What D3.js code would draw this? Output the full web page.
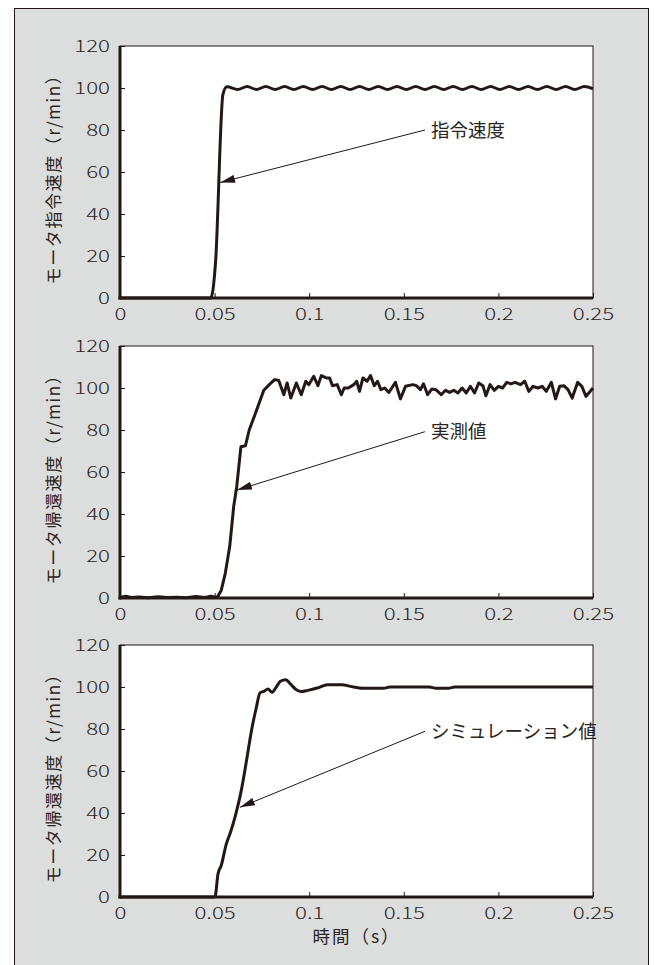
<!DOCTYPE html>
<html>
<head>
<meta charset="utf-8">
<script src="https://cdn.jsdelivr.net/npm/d3@7"></script>
<style>
  body { margin: 0; background: #fff; }
  svg { display: block; }
</style>
</head>
<body>
<svg class="chart"></svg>
<script>
// tick labels
const timeTicks = [0, 0.05, 0.1, 0.15, 0.2, 0.25];
const speedTicks = [0, 20, 40, 60, 80, 100, 120];
const timeTitle = "時間（s）";

// [time (s), speed (r/min)]
const commandSpeed = [
  [0, 0], [0.048, 0], [0.0505, 17], [0.0544, 97], [0.0565, 100.6],
  [0.0622, 99.3], [0.0672, 100.7], [0.0721, 99.3], [0.0771, 100.7], [0.0820, 99.3],
  [0.0870, 100.7], [0.0919, 99.3], [0.0969, 100.7], [0.1018, 99.3], [0.1068, 100.7],
  [0.1117, 99.3], [0.1167, 100.7], [0.1216, 99.3], [0.1266, 100.7], [0.1315, 99.3],
  [0.1365, 100.7], [0.1414, 99.3], [0.1464, 100.7], [0.1513, 99.3], [0.1563, 100.7],
  [0.1612, 99.3], [0.1662, 100.7], [0.1711, 99.3], [0.1761, 100.7], [0.1810, 99.3],
  [0.1860, 100.7], [0.1909, 99.3], [0.1959, 100.7], [0.2008, 99.3], [0.2058, 100.7],
  [0.2107, 99.3], [0.2157, 100.7], [0.2206, 99.3], [0.2256, 100.7], [0.2305, 99.3],
  [0.2355, 100.7], [0.2404, 99.3], [0.2454, 100.7], [0.25, 99.6]
];

const measuredSpeed = [
  [0, 0.3], [0.003, 0.8], [0.006, 0.2], [0.01, 0.5], [0.015, 0.1], [0.02, 0.6],
  [0.025, 0.2], [0.03, 0.4], [0.035, 0.1], [0.04, 0.7], [0.045, 0.3], [0.048, 0.9],
  [0.0513, 0.2], [0.0535, 3.6], [0.0557, 12], [0.058, 24.6], [0.0601, 43.7],
  [0.0617, 53], [0.0639, 72], [0.0663, 72.5], [0.0683, 80], [0.0716, 88],
  [0.076, 98.9], [0.0789, 101.6], [0.0817, 104], [0.0839, 103.6], [0.0866, 96.8],
  [0.0883, 102.4], [0.0903, 95.2], [0.0932, 102.4], [0.0958, 96.8], [0.0982, 103.2],
  [0.0998, 101.6], [0.1024, 105.6], [0.1046, 101.1], [0.1064, 105.9], [0.109, 104.8],
  [0.1108, 104.8], [0.1123, 101.1], [0.1148, 101.6], [0.117, 96.8], [0.1185, 100],
  [0.1207, 100], [0.1236, 101.6], [0.1251, 103.2], [0.1266, 98.4], [0.1284, 104.8],
  [0.1306, 103.2], [0.1324, 105.9], [0.1344, 101.1], [0.1361, 103.2], [0.1379, 99.2],
  [0.1399, 100], [0.1421, 97.9], [0.1456, 102.7], [0.1482, 94.8], [0.1509, 100.8],
  [0.1548, 101.6], [0.1566, 101.1], [0.1588, 99.2], [0.1604, 102], [0.1626, 96.8],
  [0.1648, 99.5], [0.167, 99.2], [0.1698, 96.8], [0.172, 98.9], [0.1742, 97.9],
  [0.1764, 98.9], [0.1786, 97.6], [0.1808, 100], [0.183, 97.6], [0.1852, 100.8],
  [0.1874, 97.6], [0.1896, 102.4], [0.1918, 101.1], [0.1934, 96.3], [0.1956, 101.6],
  [0.1978, 98.9], [0.2, 100.8], [0.2022, 100], [0.2044, 102.7], [0.2066, 102],
  [0.2088, 102.7], [0.2117, 101.6], [0.2139, 103.2], [0.2161, 98.4], [0.2183, 100.8],
  [0.2209, 100], [0.2231, 100.8], [0.2253, 98.4], [0.228, 102.7], [0.2302, 94.8],
  [0.2324, 100.8], [0.2346, 101.1], [0.2368, 99.2], [0.239, 95.2], [0.2419, 102.7],
  [0.2441, 100.8], [0.2463, 96], [0.25, 100]
];

const simulatedSpeed = [
  [0, 0], [0.0502, 0], [0.0518, 11], [0.0535, 15], [0.0562, 25.3], [0.0584, 30.8],
  [0.0612, 39.5], [0.0639, 49.8], [0.0667, 64], [0.0696, 79.8], [0.072, 90],
  [0.074, 97.2], [0.076, 97.9], [0.0782, 99], [0.0804, 97.5], [0.0826, 100],
  [0.0848, 102.7], [0.0877, 103.5], [0.0899, 101.6], [0.0932, 98.7], [0.0958, 97.8],
  [0.0993, 98.4], [0.1042, 99.5], [0.1097, 101.1], [0.1174, 101.1], [0.1218, 100.3],
  [0.1284, 99.4], [0.1394, 99.4], [0.1427, 100], [0.1636, 100], [0.167, 99.4],
  [0.1736, 99.4], [0.1769, 100], [0.25, 100]
];

const panels = [
  { yLabel: "モータ指令速度（r/min）", data: commandSpeed, curve: d3.curveMonotoneX,
    note: "指令速度", noteFrom: [0.1612, 80], noteTo: [0.0529, 55] },
  { yLabel: "モータ帰還速度（r/min）", data: measuredSpeed, curve: d3.curveLinear,
    note: "実測値", noteFrom: [0.1612, 79.2], noteTo: [0.0618, 51.4] },
  { yLabel: "モータ帰還速度（r/min）", data: simulatedSpeed, curve: d3.curveMonotoneX,
    note: "シミュレーション値", noteFrom: [0.1612, 78.9], noteTo: [0.0634, 42.7] }
];

const ink = "#231815";
const textInk = "#2a2422";
const numFont = "'Noto Sans CJK JP', 'Noto Sans', sans-serif";
const jpFont = "'Noto Sans CJK JP', sans-serif";

const W = 654, H = 965;
const left = 120, plotW = 473, plotH = 252;
const tops = [46, 346, 645];
const widen = 1.35;   // the original digits are set in a very wide face

const svg = d3.select(".chart")
    .attr("width", W)
    .attr("height", H);

svg.append("rect")
    .attr("x", 14.5).attr("y", 8.5)
    .attr("width", 634).attr("height", 975)
    .attr("fill", "#dcdddd")
    .attr("stroke", ink)
    .attr("stroke-width", 1);

const defs = svg.append("defs");
defs.append("marker")
    .attr("id", "head")
    .attr("markerUnits", "userSpaceOnUse")
    .attr("viewBox", "0 0 15 8")
    .attr("refX", 15).attr("refY", 4)
    .attr("markerWidth", 15).attr("markerHeight", 8)
    .attr("orient", "auto")
  .append("path")
    .attr("d", "M0,0 L15,4 L0,8 Z")
    .attr("fill", ink);

const x = d3.scaleLinear().domain([0, 0.25]).range([0, plotW]);
const y = d3.scaleLinear().domain([0, 120]).range([plotH, 0]);

panels.forEach((p, i) => {
  const g = svg.append("g").attr("transform", `translate(${left}, ${tops[i]})`);

  g.append("rect")
      .attr("width", plotW).attr("height", plotH)
      .attr("fill", "#fff")
      .attr("stroke", ink)
      .attr("stroke-width", 1);

  const yAxis = g.append("g")
      .call(d3.axisLeft(y).tickValues(speedTicks).tickSize(-5).tickPadding(10));
  const xAxis = g.append("g")
      .attr("transform", `translate(0, ${plotH})`)
      .call(d3.axisBottom(x).tickValues(timeTicks).tickFormat(d3.format("")).tickSize(-5).tickPadding(10));

  [yAxis, xAxis].forEach(a => {
    a.select(".domain").remove();
    a.selectAll("line").attr("stroke", ink);
    a.selectAll("text")
        .attr("fill", textInk)
        .style("font-family", numFont)
        .style("font-size", "16.5px")
        .style("font-weight", 300);
  });
  xAxis.selectAll("text")
      .attr("dy", "0.72em")
      .attr("transform", `scale(${widen},1)`);
  yAxis.selectAll("text")
      .attr("dy", "0.36em")
      .attr("x", -10 / widen)
      .attr("transform", `scale(${widen},1)`);

  // thick left and bottom spines
  g.append("line").attr("x1", 0).attr("x2", 0).attr("y1", 0).attr("y2", plotH + 1.5)
      .attr("stroke", ink).attr("stroke-width", 3);
  g.append("line").attr("x1", -1.5).attr("x2", plotW).attr("y1", plotH).attr("y2", plotH)
      .attr("stroke", ink).attr("stroke-width", 3);

  const line = d3.line()
      .x(d => x(d[0]))
      .y(d => y(d[1]))
      .curve(p.curve);

  g.append("path")
      .datum(p.data)
      .attr("fill", "none")
      .attr("stroke", ink)
      .attr("stroke-width", 3)
      .attr("stroke-linejoin", "round")
      .attr("d", line);

  g.append("line")
      .attr("x1", x(p.noteFrom[0])).attr("y1", y(p.noteFrom[1]))
      .attr("x2", x(p.noteTo[0])).attr("y2", y(p.noteTo[1]))
      .attr("stroke", ink)
      .attr("stroke-width", 1)
      .attr("marker-end", "url(#head)");

  g.append("text")
      .attr("x", x(p.noteFrom[0]) + 6)
      .attr("y", y(p.noteFrom[1]))
      .attr("dy", "0.36em")
      .attr("fill", textInk)
      .style("font-family", jpFont)
      .style("font-size", "18.5px")
      .text(p.note);

  svg.append("text")
      .attr("transform", `translate(54, ${tops[i] + plotH / 2 + 3}) rotate(-90)`)
      .attr("text-anchor", "middle")
      .attr("dy", "0.36em")
      .attr("fill", textInk)
      .style("font-family", jpFont)
      .style("font-size", "17px")
      .style("letter-spacing", "1.6px")
      .text(p.yLabel);
});

svg.append("text")
    .attr("x", left + plotW / 2)
    .attr("y", tops[2] + plotH + 40)
    .attr("dy", "0.36em")
    .attr("text-anchor", "middle")
    .attr("fill", textInk)
    .style("font-family", jpFont)
    .style("font-size", "17.5px")
    .style("letter-spacing", "2px")
    .text(timeTitle);
</script>
</body>
</html>
